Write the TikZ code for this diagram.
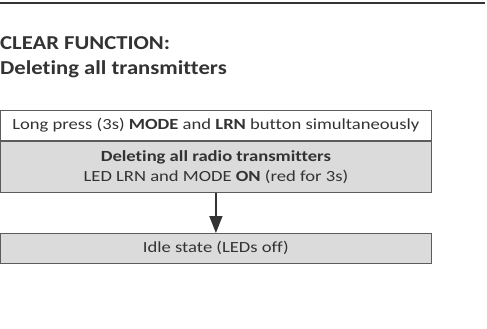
\documentclass[tikz,border=0pt]{standalone}
\usepackage{fontspec}
\setmainfont{Carlito}[Ligatures=NoCommon]
\newfontfamily\bodyfont{Carlito}[Ligatures=NoCommon,FakeStretch=1.2]
\newfontfamily\headfont{Carlito}[Ligatures=NoCommon,FakeStretch=1.15]
\usetikzlibrary{positioning,arrows.meta}
\definecolor{boxGray}{gray}{.86}
\definecolor{inkGray}{gray}{.2}

\tikzset{flowbox/.style={draw=inkGray!80,line width=.8pt,rectangle,rounded corners=0pt,inner sep=0pt,
    minimum width=431pt,text=inkGray,align=center,font=\bodyfont\fontsize{15.5}{20}\selectfont}}

\begin{document}
\begin{tikzpicture}[x=1pt,y=-1pt]%
  \useasboundingbox (0,0) rectangle (487,329);
  % rule on top of the page
  \coordinate (ruleL) at (0,3);
  \coordinate (ruleR) at (485,3);
  \draw[inkGray,line width=1.2pt] (ruleL) -- (ruleR);
  % heading
  \node[anchor=base west,inner sep=0pt,text=inkGray,
        font=\headfont\fontsize{19.7}{25}\selectfont\bfseries] (heading) at (0,49.3)
    {CLEAR FUNCTION:};
  \node[anchor=base west,inner sep=0pt,text=inkGray,
        font=\headfont\fontsize{19.7}{25}\selectfont\bfseries] (subheading) at (0,74.3)
    {Deleting all transmitters};
  % the steps
  \node[flowbox,minimum height=30pt,anchor=north west] (press) at (0,110)
    {Long press (3s) \textbf{MODE} and \textbf{LRN} button simultaneously};
  \node[flowbox,minimum height=51pt,fill=boxGray,below=0pt of press] (clear)
    {\textbf{Deleting all radio transmitters}\\LED LRN and MODE \textbf{ON} (red for 3s)};
  \node[flowbox,minimum height=30pt,fill=boxGray,anchor=north west] (idle) at (0,233)
    {Idle state (LEDs off)};
  \draw[inkGray,line width=1.6pt,-{Triangle[length=17pt,width=13pt]}] (clear) -- (idle);
\end{tikzpicture}
\end{document}
